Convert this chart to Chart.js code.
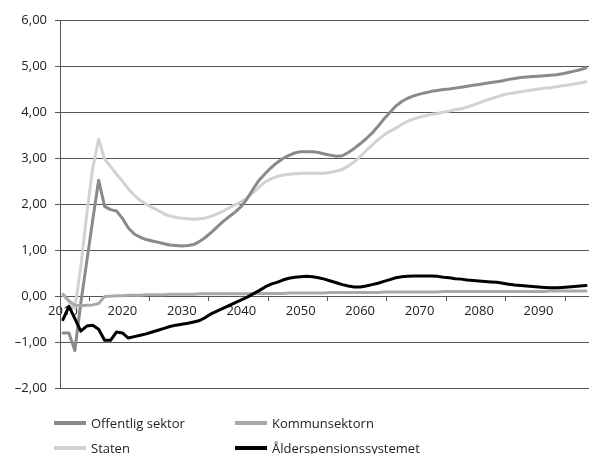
<!DOCTYPE html>
<html>
<head>
<meta charset="utf-8">
<script src="https://cdn.jsdelivr.net/npm/chart.js@4.4.0/dist/chart.umd.min.js"></script>
<style>
  html, body { margin: 0; padding: 0; background: #fff; overflow: hidden; }
  #wrap { position: relative; width: 589px; height: 454px; }
  #box { position: absolute; left: 0; top: 0; width: 589px; height: 404px; }
  #legend { position: absolute; left: 0; top: 0; width: 589px; height: 454px; pointer-events: none;
    font-family: "Open Sans", sans-serif; font-size: 13px; color: #222; }
  .item { position: absolute; display: flex; align-items: center; height: 18px; }
  .swatch { width: 32px; height: 4px; margin-right: 5px; }
</style>
</head>
<body>
<div id="wrap">
  <div id="box"><canvas id="chart"></canvas></div>
  <div id="legend"></div>
</div>
<script>
// years on the category axis
const years = Array.from({ length: 89 }, (_, i) => String(2010 + i));
const labelYears = [2010, 2020, 2030, 2040, 2050, 2060, 2070, 2080, 2090];
const tickYears = [2015, 2025, 2035, 2045, 2055, 2065, 2075, 2085, 2095];

const offentlig = [
  -0.80, -0.80, -1.18, -0.15, 0.75, 1.65, 2.52, 1.95, 1.88, 1.85,
  1.69, 1.48, 1.35, 1.28, 1.23, 1.20, 1.17, 1.14, 1.11, 1.10,
  1.09, 1.10, 1.12, 1.19, 1.28, 1.39, 1.51, 1.63, 1.73, 1.83,
  1.95, 2.12, 2.33, 2.52, 2.66, 2.79, 2.90, 2.99, 3.06, 3.11,
  3.14, 3.14, 3.14, 3.12, 3.09, 3.06, 3.04, 3.05, 3.12, 3.21,
  3.31, 3.42, 3.54, 3.69, 3.85, 3.99, 4.13, 4.23, 4.30, 4.35,
  4.39, 4.42, 4.45, 4.47, 4.49, 4.50, 4.52, 4.54, 4.56, 4.58,
  4.60, 4.62, 4.64, 4.66, 4.68, 4.71, 4.73, 4.75, 4.76, 4.77,
  4.78, 4.79, 4.80, 4.81, 4.83, 4.86, 4.89, 4.92, 4.96
];

const kommun = [
  0.04, -0.10, -0.20, -0.21, -0.20, -0.19, -0.16, -0.01, 0.00, 0.01,
  0.01, 0.02, 0.02, 0.02, 0.03, 0.03, 0.03, 0.03, 0.04, 0.04,
  0.04, 0.04, 0.04, 0.05, 0.05, 0.05, 0.05, 0.05, 0.05, 0.05,
  0.05, 0.05, 0.06, 0.06, 0.06, 0.06, 0.06, 0.06, 0.07, 0.07,
  0.07, 0.07, 0.07, 0.07, 0.07, 0.08, 0.08, 0.08, 0.08, 0.08,
  0.08, 0.08, 0.08, 0.08, 0.09, 0.09, 0.09, 0.09, 0.09, 0.09,
  0.09, 0.09, 0.09, 0.09, 0.10, 0.10, 0.10, 0.10, 0.10, 0.10,
  0.10, 0.10, 0.10, 0.10, 0.10, 0.10, 0.10, 0.10, 0.10, 0.10,
  0.10, 0.10, 0.11, 0.11, 0.11, 0.11, 0.11, 0.11, 0.11
];

const staten = [
  0.03, -0.12, -0.27, 0.64, 1.78, 2.78, 3.41, 2.98, 2.82, 2.65,
  2.50, 2.33, 2.19, 2.08, 2.00, 1.93, 1.86, 1.79, 1.74, 1.71,
  1.69, 1.68, 1.67, 1.68, 1.70, 1.74, 1.79, 1.85, 1.92, 1.99,
  2.05, 2.14, 2.25, 2.37, 2.48, 2.55, 2.60, 2.63, 2.65, 2.66,
  2.67, 2.67, 2.67, 2.67, 2.67, 2.69, 2.72, 2.75, 2.83, 2.92,
  3.03, 3.16, 3.28, 3.40, 3.50, 3.58, 3.65, 3.73, 3.80, 3.85,
  3.89, 3.92, 3.95, 3.97, 4.00, 4.02, 4.05, 4.07, 4.11, 4.15,
  4.20, 4.25, 4.29, 4.33, 4.37, 4.40, 4.42, 4.44, 4.46, 4.48,
  4.50, 4.52, 4.53, 4.55, 4.57, 4.59, 4.61, 4.63, 4.66
];

const alderspension = [
  -0.51, -0.22, -0.49, -0.76, -0.65, -0.63, -0.72, -0.96, -0.96, -0.78,
  -0.80, -0.91, -0.88, -0.85, -0.82, -0.78, -0.74, -0.70, -0.66, -0.63,
  -0.61, -0.59, -0.56, -0.53, -0.46, -0.38, -0.32, -0.26, -0.20, -0.14,
  -0.08, -0.02, 0.05, 0.12, 0.20, 0.26, 0.30, 0.35, 0.39, 0.41,
  0.42, 0.43, 0.42, 0.40, 0.37, 0.33, 0.29, 0.25, 0.22, 0.20,
  0.20, 0.22, 0.25, 0.28, 0.32, 0.36, 0.40, 0.42, 0.43, 0.44,
  0.44, 0.44, 0.44, 0.43, 0.41, 0.40, 0.38, 0.37, 0.35, 0.34,
  0.33, 0.32, 0.31, 0.30, 0.28, 0.26, 0.24, 0.23, 0.22, 0.21,
  0.20, 0.19, 0.18, 0.18, 0.19, 0.20, 0.21, 0.22, 0.23
];

const fmt = v => (v < 0 ? "\u2013" : "") + Math.abs(v).toFixed(2).replace(".", ",");
const axisFont = { family: "Open Sans", size: 13 };

const line = (label, data, color, order) => ({
  label, data, borderColor: color, backgroundColor: color,
  borderWidth: 3, pointRadius: 0, tension: 0, order,
  borderJoinStyle: "round", borderCapStyle: "round"
});

const chart = new Chart(document.getElementById("chart"), {
  type: "line",
  data: {
    labels: years,
    datasets: [
      line("Offentlig sektor", offentlig, "#8a8a8a", 2),
      line("Kommunsektorn", kommun, "#a9a9a9", 1),
      line("Staten", staten, "#d2d2d2", 3),
      line("Ålderspensionssystemet", alderspension, "#000000", 0)
    ]
  },
  options: {
    responsive: true,
    maintainAspectRatio: false,
    animation: false,
    layout: { padding: { top: 20, bottom: 9, left: 0, right: 0 } },
    plugins: { legend: { display: false }, tooltip: { enabled: false } },
    scales: {
      x: {
        type: "category",
        position: { y: 0 },
        offset: true,
        border: { display: false },
        grid: {
          offset: true,
          drawOnChartArea: false,
          drawTicks: true,
          tickLength: 5,
          lineWidth: 1,
          tickColor: ctx => tickYears.includes(2010 + ctx.index) ? "#555" : "rgba(0,0,0,0)",
          color: "rgba(0,0,0,0)"
        },
        ticks: {
          autoSkip: false,
          maxRotation: 0,
          padding: 2,
          color: "#222",
          font: axisFont,
          callback: (v, i) => labelYears.includes(2010 + i) ? String(2010 + i) : ""
        }
      },
      y: {
        min: -2,
        max: 6,
        afterFit: s => { s.width = 60; },
        border: { display: true, color: "#555", width: 1 },
        grid: { color: "#555", lineWidth: 1, tickLength: 5, drawTicks: true },
        ticks: { stepSize: 1, padding: 8, color: "#222", font: axisFont, callback: v => fmt(v) }
      }
    }
  }
});

// two-column legend under the chart
const legendPos = [[54, 414], [235, 414], [54, 439], [235, 439]];
const legend = document.getElementById("legend");
chart.data.datasets.forEach((ds, i) => {
  const el = document.createElement("div");
  el.className = "item";
  el.style.left = legendPos[i][0] + "px";
  el.style.top = legendPos[i][1] + "px";
  el.innerHTML = `<span class="swatch" style="background:${ds.borderColor}"></span><span>${ds.label}</span>`;
  legend.appendChild(el);
});
</script>
</body>
</html>
